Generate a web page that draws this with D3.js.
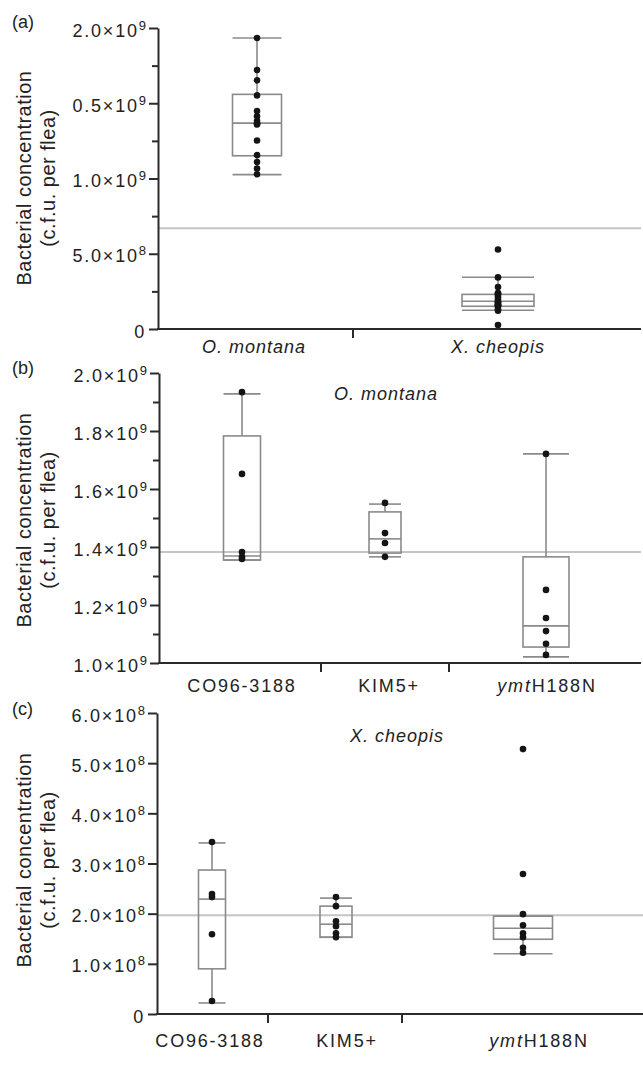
<!DOCTYPE html>
<html>
<head>
<meta charset="utf-8">
<script src="https://cdn.jsdelivr.net/npm/d3@7.9.0/dist/d3.min.js"></script>
<style>
  html, body { margin: 0; padding: 0; background: #fff; }
  svg { display: block; font-family: 'Liberation Sans', Arial, Helvetica, sans-serif; }
</style>
</head>
<body>
<svg id="chart" width="643" height="1078"></svg>
<script>
// ---- data (c.f.u. per flea) ----
const species = ['O. montana', 'X. cheopis'];
const strains = ['CO96-3188', 'KIM5+', 'ymtH188N'];

// (b) O. montana, one array of fleas per strain
const montanaDots = [
  [1.934e9, 1.652e9, 1.383e9, 1.366e9, 1.359e9],
  [1.552e9, 1.448e9, 1.414e9, 1.366e9],
  [1.721e9, 1.252e9, 1.155e9, 1.110e9, 1.066e9, 1.028e9]
];
// box stats: [min, q1, median, q3, max]
const montanaBoxes = [
  [1.355e9, 1.355e9, 1.369e9, 1.783e9, 1.928e9],
  [1.366e9, 1.379e9, 1.428e9, 1.521e9, 1.548e9],
  [1.021e9, 1.055e9, 1.128e9, 1.366e9, 1.721e9]
];

// (c) X. cheopis
const cheopisDots = [
  [3.43e8, 2.39e8, 2.33e8, 1.59e8, 0.26e8],
  [2.33e8, 2.15e8, 1.85e8, 1.75e8, 1.61e8, 1.53e8],
  [5.28e8, 2.79e8, 1.99e8, 1.77e8, 1.61e8, 1.53e8, 1.32e8, 1.22e8]
];
const cheopisBoxes = [
  [0.22e8, 0.90e8, 2.29e8, 2.87e8, 3.41e8],
  [1.53e8, 1.53e8, 1.79e8, 2.15e8, 2.31e8],
  [1.20e8, 1.49e8, 1.71e8, 1.95e8, 1.95e8]
];

// (a) pooled per species
const speciesBoxes = [
  [1.026e9, 1.151e9, 1.368e9, 1.559e9, 1.934e9],
  [1.25e8, 1.51e8, 1.84e8, 2.30e8, 3.44e8]
];

// grey reference lines
const refA = 6.7e8, refB = 1.383e9, refC = 1.97e8;

// y ticks
const ticksA = [0, 5e8, 1e9, 1.5e9, 2e9];
const tickLabelsA = ['0', '5.0×10^8', '1.0×10^9', '0.5×10^9', '2.0×10^9'];
const minorA = [2.5e8, 7.5e8, 1.25e9, 1.75e9];
const ticksB = [1.0e9, 1.2e9, 1.4e9, 1.6e9, 1.8e9, 2.0e9];
const tickLabelsB = ['1.0×10^9', '1.2×10^9', '1.4×10^9', '1.6×10^9', '1.8×10^9', '2.0×10^9'];
const minorB = [1.1e9, 1.3e9, 1.5e9, 1.7e9, 1.9e9];
const ticksC = [0, 1e8, 2e8, 3e8, 4e8, 5e8, 6e8];
const tickLabelsC = ['0', '1.0×10^8', '2.0×10^8', '3.0×10^8', '4.0×10^8', '5.0×10^8', '6.0×10^8'];

// ---- drawing ----
const svg = d3.select('#chart');
const AXIS = '#2b2b2b', BOX = '#8a8a8a', REF = '#c4c4c4';

function catLabel(sel, name) {
  if (name.startsWith('ymt')) {
    sel.append('tspan').attr('font-style', 'italic').text('ymt');
    sel.append('tspan').text(name.slice(3));
  } else {
    sel.text(name);
  }
}

function drawPanel(p) {
  const g = svg.append('g');
  const y = d3.scaleLinear().domain(p.domain).range([p.bottom, p.top]);
  const x = d3.scaleOrdinal().domain(p.cats).range(p.centers);
  const bw = d3.scaleOrdinal().domain(p.cats).range(p.widths);

  // reference line
  g.append('line')
    .attr('x1', p.left).attr('x2', p.right)
    .attr('y1', y(p.ref)).attr('y2', y(p.ref))
    .attr('stroke', REF).attr('stroke-width', 2);

  const rows = p.cats.map((c, i) => ({ c, s: p.boxes[i], pts: p.dots[i] }));
  const box = g.selectAll('g.box').data(rows).join('g').attr('class', 'box')
    .attr('stroke', BOX).attr('stroke-width', 1.6).attr('fill', 'none');

  // whiskers
  box.append('line')
    .attr('x1', d => x(d.c)).attr('x2', d => x(d.c))
    .attr('y1', d => y(d.s[0])).attr('y2', d => y(d.s[1]));
  box.append('line')
    .attr('x1', d => x(d.c)).attr('x2', d => x(d.c))
    .attr('y1', d => y(d.s[3])).attr('y2', d => y(d.s[4]));
  [0, 4].forEach(k => {
    box.append('line')
      .attr('x1', d => x(d.c) - bw(d.c) / 2).attr('x2', d => x(d.c) + bw(d.c) / 2)
      .attr('y1', d => y(d.s[k])).attr('y2', d => y(d.s[k]));
  });
  box.append('rect')
    .attr('x', d => x(d.c) - bw(d.c) / 2).attr('width', d => bw(d.c))
    .attr('y', d => y(d.s[3])).attr('height', d => y(d.s[1]) - y(d.s[3]));
  box.append('line')
    .attr('x1', d => x(d.c) - bw(d.c) / 2).attr('x2', d => x(d.c) + bw(d.c) / 2)
    .attr('y1', d => y(d.s[2])).attr('y2', d => y(d.s[2]));

  // individual fleas
  box.selectAll('circle').data(d => d.pts.map(v => ({ c: d.c, v }))).join('circle')
    .attr('cx', d => x(d.c)).attr('cy', d => y(d.v)).attr('r', 3.3)
    .attr('fill', '#141414').attr('stroke', 'none');

  // y axis
  const ya = g.append('g').attr('transform', `translate(${p.left},0)`)
    .call(d3.axisLeft(y).tickValues(p.ticks).tickSize(9).tickSizeOuter(0).tickPadding(3)
      .tickFormat((d, i) => p.tickLabels[i]));
  ya.select('.domain').attr('stroke', AXIS).attr('stroke-width', 2);
  ya.selectAll('.tick line').attr('stroke', AXIS).attr('stroke-width', 2);
  ya.selectAll('.tick text')
    .attr('font-size', 18).attr('fill', '#222').attr('letter-spacing', 1.8).attr('dy', '0.45em')
    .attr('font-family', "'Liberation Sans', Arial, sans-serif")
    .each(function () {
      const t = d3.select(this);
      const [base, exp] = t.text().split('^');
      t.text(base);
      if (exp) t.append('tspan').attr('dy', -7).attr('font-size', 13).attr('letter-spacing', 0).text(exp);
    });
  if (p.minor) {
    const ym = g.append('g').attr('transform', `translate(${p.left},0)`)
      .call(d3.axisLeft(y).tickValues(p.minor).tickSize(6).tickFormat(''));
    ym.select('.domain').remove();
    ym.selectAll('.tick line').attr('stroke', AXIS).attr('stroke-width', 2);
  }

  // x axis baseline and category dividers
  g.append('line')
    .attr('x1', p.left - 1).attr('x2', p.right)
    .attr('y1', p.bottom).attr('y2', p.bottom)
    .attr('stroke', AXIS).attr('stroke-width', 2);
  g.selectAll('line.div').data(p.dividers).join('line').attr('class', 'div')
    .attr('x1', d => d).attr('x2', d => d)
    .attr('y1', p.bottom).attr('y2', p.bottom + 9)
    .attr('stroke', AXIS).attr('stroke-width', 2);

  // category labels
  g.selectAll('text.cat').data(p.cats).join('text').attr('class', 'cat')
    .attr('x', (d, i) => p.labelX[i]).attr('y', p.labelY)
    .attr('text-anchor', 'middle').attr('font-size', 18).attr('fill', '#222')
    .attr('letter-spacing', p.italicCats ? 1 : 1.8)
    .attr('font-style', p.italicCats ? 'italic' : null)
    .each(function (d) { catLabel(d3.select(this), d); });

  // panel letter
  g.append('text').attr('x', 12).attr('y', p.letterY)
    .attr('font-size', 18).attr('fill', '#222').text(p.letter);

  // species title inside panel
  if (p.title) {
    g.append('text').attr('x', p.title.x).attr('y', p.title.y)
      .attr('text-anchor', 'middle').attr('font-size', 18).attr('font-style', 'italic')
      .attr('letter-spacing', 1).attr('fill', '#222').text(p.title.text);
  }

  // y axis title
  const ty = p.titleMid;
  g.append('text').attr('transform', `translate(31,${ty}) rotate(-90)`)
    .attr('text-anchor', 'middle').attr('font-size', 20).attr('letter-spacing', 0.5)
    .attr('fill', '#222').text('Bacterial concentration');
  g.append('text').attr('transform', `translate(55,${ty}) rotate(-90)`)
    .attr('text-anchor', 'middle').attr('font-size', 20).attr('letter-spacing', 0.5)
    .attr('fill', '#222').text('(c.f.u. per flea)');
}

drawPanel({
  letter: '(a)', letterY: 28,
  cats: species, boxes: speciesBoxes, dots: [d3.merge(montanaDots), d3.merge(cheopisDots)],
  domain: [0, 2e9], top: 28, bottom: 329, left: 158, right: 641,
  centers: [257, 498], widths: [49, 72], dividers: [353],
  labelX: [254, 498], labelY: 353, italicCats: true,
  ticks: ticksA, tickLabels: tickLabelsA, minor: minorA,
  ref: refA, titleMid: 178
});

drawPanel({
  letter: '(b)', letterY: 374,
  cats: strains, boxes: montanaBoxes, dots: montanaDots,
  domain: [1e9, 2e9], top: 373, bottom: 663, left: 159, right: 641,
  centers: [242, 385, 546], widths: [37, 32, 46], dividers: [321, 449],
  labelX: [242, 389, 547], labelY: 692,
  ticks: ticksB, tickLabels: tickLabelsB, minor: minorB,
  ref: refB, titleMid: 520,
  title: { text: 'O. montana', x: 386, y: 400 }
});

drawPanel({
  letter: '(c)', letterY: 715,
  cats: strains, boxes: cheopisBoxes, dots: cheopisDots,
  domain: [0, 6e8], top: 713, bottom: 1014, left: 157, right: 643,
  centers: [212, 336, 523], widths: [27, 32, 59], dividers: [268, 402],
  labelX: [210, 347, 539], labelY: 1047,
  ticks: ticksC, tickLabels: tickLabelsC, minor: null,
  ref: refC, titleMid: 860,
  title: { text: 'X. cheopis', x: 397, y: 742 }
});
</script>
</body>
</html>
